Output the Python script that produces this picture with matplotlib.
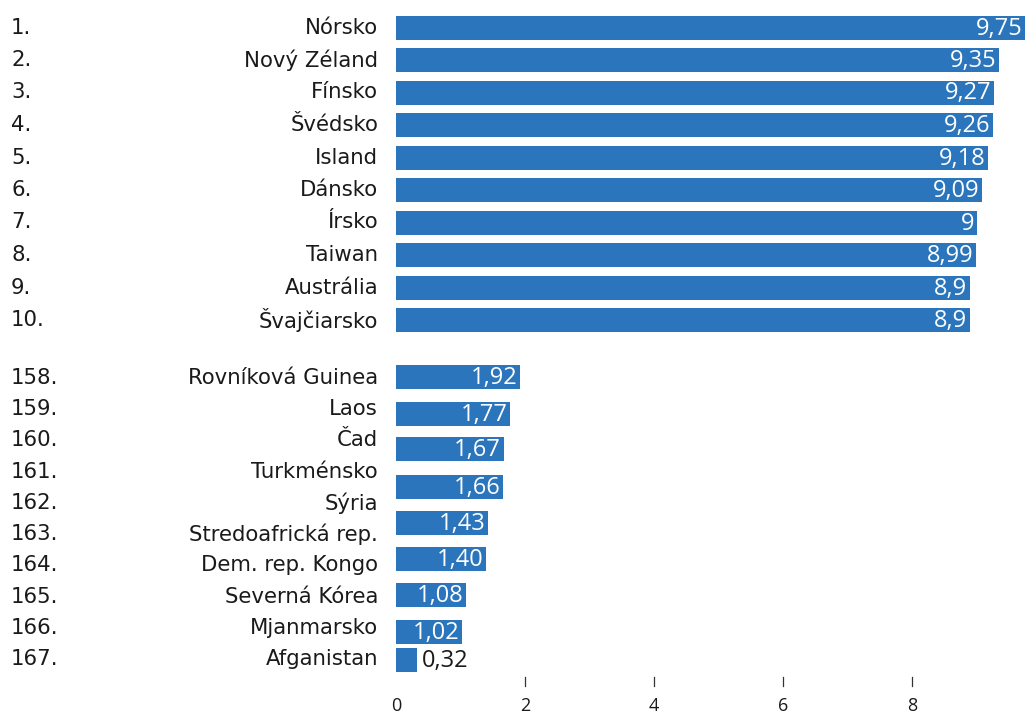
import numpy as np
import matplotlib
matplotlib.use('Agg')
import matplotlib.pyplot as plt

# Democracy index: top 10 and bottom 10 (values as printed, decimal comma)
top_ranks = ['1.', '2.', '3.', '4.', '5.', '6.', '7.', '8.', '9.', '10.']
top_countries = ['Nórsko', 'Nový Zéland', 'Fínsko', 'Švédsko', 'Island',
                 'Dánsko', 'Írsko', 'Taiwan', 'Austrália', 'Švajčiarsko']
top_scores = ['9,75', '9,35', '9,27', '9,26', '9,18',
              '9,09', '9', '8,99', '8,9', '8,9']

bottom_ranks = ['158.', '159.', '160.', '161.', '162.',
                '163.', '164.', '165.', '166.', '167.']
bottom_countries = ['Rovníková Guinea', 'Laos', 'Čad', 'Turkménsko', 'Sýria',
                    'Stredoafrická rep.', 'Dem. rep. Kongo', 'Severná Kórea',
                    'Mjanmarsko', 'Afganistan']
bottom_scores = ['1,92', '1,77', '1,67', '1,66', '1,43',
                 '1,40', '1,08', '1,02', '0,32']

xticks = [0, 2, 4, 6, 8]

BLUE = '#2a75bb'
W, H = 1029, 716
X0, PX = 396, 64.5   # pixel of zero and pixels per unit

fig = plt.figure(figsize=(W / 100, H / 100), dpi=100)
ax = fig.add_axes([0, 0, 1, 1])
ax.set_xlim(-X0 / PX, (W - X0) / PX)
ax.set_ylim(H, 0)
ax.axis('off')


def to_float(s):
    return float(s.replace(',', '.'))


label_font = dict(family='DejaVu Sans', fontsize=15.3, color='#1a1a1a')
value_font = dict(family='Open Sans', fontsize=17)

rank_x = (11 - X0) / PX
name_x = (378 - X0) / PX

# row layout (in pixels from the top)
top_y = np.linspace(27.5, 320, 10)
bottom_label_y = np.linspace(378, 659, 10)
bottom_bar_y = np.array([377, 414, 449, 487, 523, 559, 595, 632, 660])
bar_h = 24


def draw_bars(ys, scores):
    vals = [to_float(s) for s in scores]
    ax.barh(ys, vals, height=bar_h, color=BLUE)
    for y, v, s in zip(ys, vals, scores):
        if v > 0.6:
            ax.text(v - 0.04, y + 1, s, ha='right', va='center',
                    color='white', **value_font)
        else:
            ax.text(v + 0.08, y + 1, s, ha='left', va='center',
                    color='#1a1a1a', **value_font)


def draw_labels(ys, ranks, names):
    for y, r, n in zip(ys, ranks, names):
        ax.text(rank_x, y, r, ha='left', va='center', **label_font)
        ax.text(name_x, y, n, ha='right', va='center', **label_font)


draw_bars(top_y, top_scores)
draw_labels(top_y, top_ranks, top_countries)
draw_bars(bottom_bar_y, bottom_scores)
draw_labels(bottom_label_y, bottom_ranks, bottom_countries)

# axis ticks along the bottom
for t in xticks:
    if t > 0:
        ax.plot([t, t], [677, 686], color='#333333', lw=0.9)
    ax.text(t, 706, str(t), ha='center', va='center',
            family='Open Sans', fontsize=13, color='#1a1a1a')

fig.savefig('out.png', dpi=100, facecolor='white')
